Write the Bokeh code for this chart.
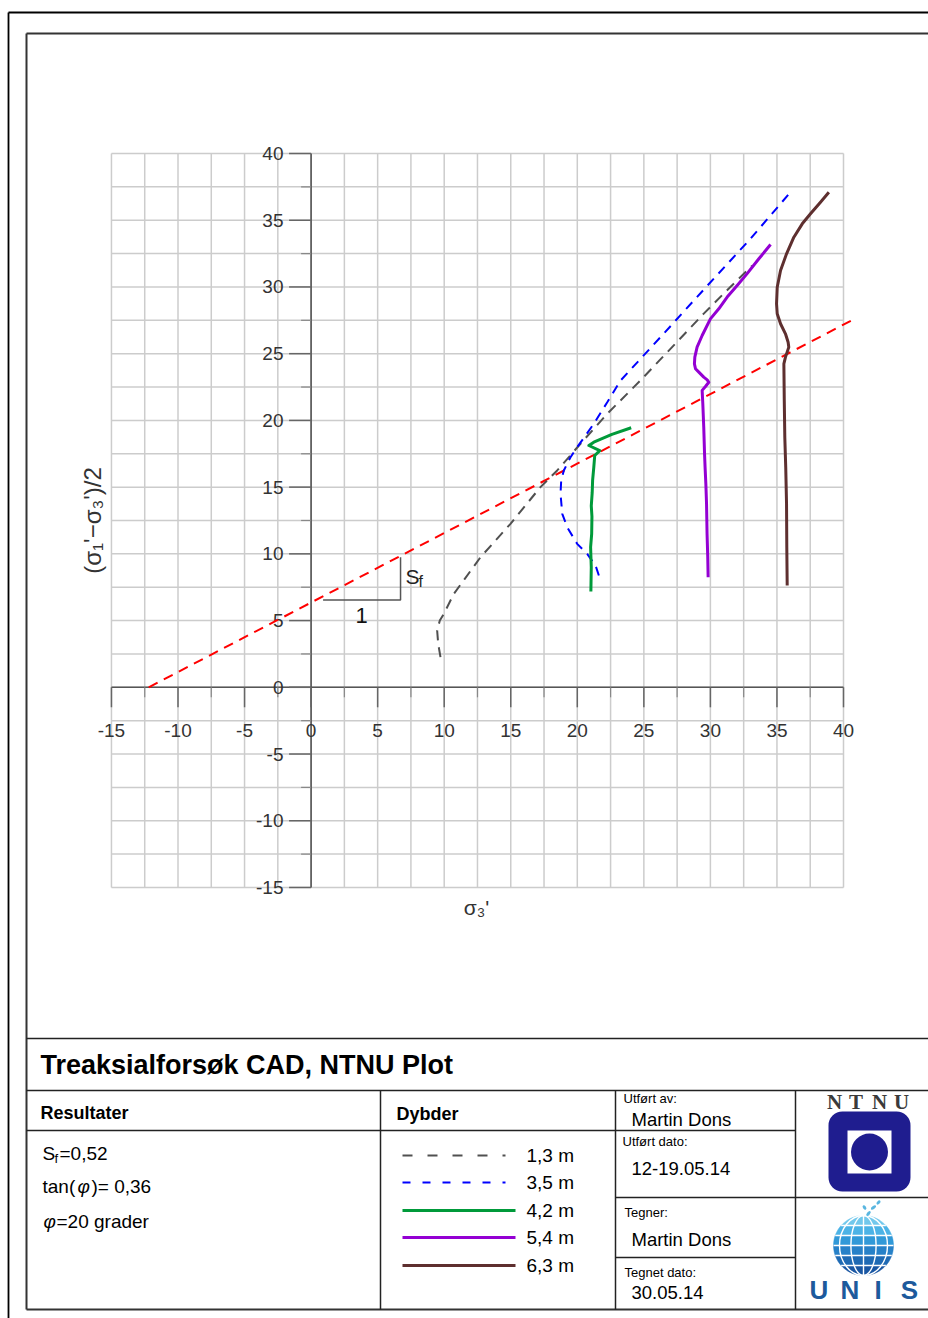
import numpy as np
from bokeh.plotting import figure
from bokeh.models import Range1d, Label, BoxAnnotation
from bokeh.embed import file_html
from bokeh.resources import INLINE
from bokeh.core.properties import value

# ---------------- data ----------------
fail_x = [-12.2, 41.0]
fail_y = [0.0, 27.7]

d13_x = [9.72, 9.55, 9.47, 9.67, 9.97, 10.72, 12.73, 14.98, 17.23, 18.49, 20.24, 22.25, 24.75, 26.75, 29.50, 31.50, 33.14]
d13_y = [2.26, 3.26, 4.26, 5.00, 5.50, 7.00, 9.75, 12.25, 15.00, 16.25, 18.25, 20.50, 23.00, 25.10, 28.00, 30.00, 31.60]

d35_x = [21.62, 21.37, 20.74, 19.99, 19.24, 18.87, 18.74, 18.79, 18.99, 19.49, 19.99, 20.62, 21.24, 22.25, 23.25, 26.40, 29.50, 33.00, 36.10]
d35_y = [8.38, 9.13, 10.00, 10.75, 12.00, 13.00, 14.50, 15.50, 16.25, 17.24, 18.00, 18.87, 19.75, 21.36, 22.99, 26.40, 29.80, 33.60, 37.20]

d42_x = [21.02, 21.05, 21.00, 21.08, 21.10, 21.05, 21.12, 21.15, 21.24, 21.31, 21.69, 20.87, 21.24, 22.60, 24.05]
d42_y = [7.18, 9.00, 10.50, 11.50, 12.80, 13.60, 14.60, 15.50, 16.50, 17.37, 17.74, 18.12, 18.37, 18.95, 19.45]

d54_x = [29.83, 29.80, 29.75, 29.71, 29.66, 29.60, 29.56, 29.50, 29.43, 29.38, 29.63, 29.88, 29.76, 29.50, 29.13, 28.88, 28.80, 28.83, 29.00, 29.38, 30.00, 30.63, 31.26, 32.01, 32.76, 33.64, 34.52]
d54_y = [8.25, 9.80, 11.50, 13.75, 15.20, 16.50, 17.50, 19.50, 21.25, 22.25, 22.54, 22.86, 23.04, 23.24, 23.62, 23.87, 24.24, 24.74, 25.49, 26.36, 27.61, 28.36, 29.24, 30.11, 31.00, 32.11, 33.18]

d63_x = [35.77, 35.74, 35.72, 35.66, 35.59, 35.55, 35.52, 35.64, 35.89, 35.84, 35.64, 35.27, 35.02, 34.97, 35.02, 35.27, 35.72, 36.27, 36.90, 37.52, 38.27, 38.90]
d63_y = [7.63, 10.50, 13.75, 16.50, 18.74, 21.50, 24.24, 24.74, 25.49, 25.86, 26.49, 27.24, 27.99, 28.74, 29.98, 31.23, 32.48, 33.73, 34.73, 35.48, 36.35, 37.10]

depth_labels = ["1,3 m", "3,5 m", "4,2 m", "5,4 m", "6,3 m"]
depth_colors = ["#505050", "#0000ff", "#009a3a", "#9400d3", "#5e2f2f"]
depth_dash = ["10 15", "8 12", "solid", "solid", "solid"]

x_ticks = [-15, -10, -5, 0, 5, 10, 15, 20, 25, 30, 35, 40]
x_tick_labels = ["-15", "-10", "-5", "0", "5", "10", "15", "20", "25", "30", "35", "40"]
y_ticks = [-15, -10, -5, 0, 5, 10, 15, 20, 25, 30, 35, 40]
y_tick_labels = ["-15", "-10", "-5", "0", "5", "10", "15", "20", "25", "30", "35", "40"]
minor_ticks = [-12.5, -7.5, -2.5, 2.5, 7.5, 12.5, 17.5, 22.5, 27.5, 32.5, 37.5]
grid_vals = list(np.arange(-15, 40.01, 2.5))

# ---------------- page <-> data mapping ----------------
X0, SX, Y0, SY = 310.6, 13.31, 686.8, 13.345
def X(px):
    return (np.asarray(px, dtype=float) - X0) / SX
def Y(py):
    return (Y0 - np.asarray(py, dtype=float)) / SY

W, H = 928, 1318
p = figure(width=W, height=H, x_range=Range1d(float(X(0)), float(X(W))),
           y_range=Range1d(float(Y(H)), float(Y(0))),
           output_backend="svg", toolbar_location=None,
           x_axis_location=None, y_axis_location=None, min_border=0,
           title=None, outline_line_color=None)
p.background_fill_color = "white"
p.border_fill_color = "white"
p.grid.visible = False
p.xgrid.grid_line_color = None
p.ygrid.grid_line_color = None

FONT = "Liberation Sans"

def lab(px, py, text, size, align="left", style="normal", color="#000000", font=FONT, angle=0.0):
    p.add_layout(Label(x=float(X(px)), y=float(Y(py)), text=text, text_font=font,
                       text_font_size=f"{size}px", text_font_style=style, text_align=align,
                       text_baseline="middle", text_color=color, angle=angle))

# ---------------- chart grid ----------------
p.segment(x0=grid_vals, y0=[-15] * len(grid_vals), x1=grid_vals, y1=[40] * len(grid_vals),
          line_color="#cccccc", line_width=1.5)
p.segment(x0=[-15] * len(grid_vals), y0=grid_vals, x1=[40] * len(grid_vals), y1=grid_vals,
          line_color="#cccccc", line_width=1.5)

# axes through the origin
p.segment(x0=[-15], y0=[0], x1=[40], y1=[0], line_color="#555555", line_width=1.6)
p.segment(x0=[0], y0=[-15], x1=[0], y1=[40], line_color="#555555", line_width=1.6)
tl_major = 20 / SY
tl_minor = 10 / SY
p.segment(x0=x_ticks, y0=[0] * len(x_ticks), x1=x_ticks, y1=[-tl_major] * len(x_ticks),
          line_color="#666666", line_width=1.5)
p.segment(x0=minor_ticks, y0=[0] * len(minor_ticks), x1=minor_ticks, y1=[-tl_minor] * len(minor_ticks),
          line_color="#888888", line_width=1.2)
p.segment(x0=[0] * len(y_ticks), y0=y_ticks, x1=[-22 / SX] * len(y_ticks), y1=y_ticks,
          line_color="#666666", line_width=1.5)
p.segment(x0=[0] * len(minor_ticks), y0=minor_ticks, x1=[-10 / SX] * len(minor_ticks), y1=minor_ticks,
          line_color="#888888", line_width=1.2)

p.text(x=x_ticks, y=[float(Y(730))] * len(x_ticks), text=x_tick_labels,
       text_font=value(FONT), text_font_size="19px", text_align="center",
       text_baseline="middle", text_color="#333333")
p.text(x=[float(X(283))] * len(y_ticks), y=y_ticks, text=y_tick_labels,
       text_font=value(FONT), text_font_size="19px", text_align="right",
       text_baseline="middle", text_color="#333333")

lab(92, 520, "(σ₁'−σ₃')/2", 24, align="center", color="#333333", angle=np.pi / 2)
lab(476, 907, "σ₃'", 21, align="center", color="#333333")

# ---------------- series ----------------
p.line(fail_x, fail_y, line_color="#ff0000", line_width=2, line_dash="10 7")
p.line(d13_x, d13_y, line_color=depth_colors[0], line_width=2, line_dash="10 7")
p.line(d35_x, d35_y, line_color=depth_colors[1], line_width=2, line_dash="9 7")
p.line(d42_x, d42_y, line_color=depth_colors[2], line_width=3, line_join="round")
p.line(d54_x, d54_y, line_color=depth_colors[3], line_width=3, line_join="round")
p.line(d63_x, d63_y, line_color=depth_colors[4], line_width=3, line_join="round")

# slope triangle
tri_x = [0.9, 6.72, 6.72]
tri_y = [6.55, 6.55, 9.75]
p.line(tri_x, tri_y, line_color="#555555", line_width=1.5)
lab(405, 576, "S", 21, color="#222222")
lab(418, 581, "f", 16, color="#222222")
lab(361, 615, "1", 22, align="center", color="#111111")

# ---------------- page frame & title block ----------------
frame = [(8, 12, 928, 12), (8, 12, 8, 1318)]
inner = [(26, 33, 928, 33), (26, 33, 26, 1309), (26, 1309, 928, 1309)]
table = [
    (26, 1038, 928, 1038), (26, 1090, 928, 1090),
    (26, 1130, 795, 1130), (615, 1197, 928, 1197), (615, 1257, 795, 1257),
    (380, 1090, 380, 1309), (615, 1090, 615, 1309), (795, 1090, 795, 1309),
]
for segs, col, lw in [(frame, "#000000", 1.8), (inner, "#333333", 2.0), (table, "#222222", 1.5)]:
    a = np.array(segs, dtype=float)
    p.segment(x0=X(a[:, 0]), y0=Y(a[:, 1]), x1=X(a[:, 2]), y1=Y(a[:, 3]),
              line_color=col, line_width=lw)

lab(40, 1064, "Treaksialforsøk CAD, NTNU Plot", 27, style="bold")
lab(40, 1112, "Resultater", 18, style="bold")
lab(396, 1113, "Dybder", 18, style="bold")

lab(42, 1153, "S", 19)
lab(54, 1158, "f", 13)
lab(59, 1153, "=0,52", 19)
lab(42, 1186, "tan(", 19)
lab(77, 1186, "φ", 19, style="italic")
lab(91, 1186, ")= 0,36", 19)
lab(43, 1221, "φ", 19, style="italic")
lab(56, 1221, "=20 grader", 19)

leg_py = [1155, 1182, 1210, 1237, 1265]
for i in range(5):
    wid = 2 if i < 2 else 3
    end = 505 if i < 2 else 515
    p.line(X([402, end]), Y([leg_py[i], leg_py[i]]), line_color=depth_colors[i],
           line_width=wid, line_dash=depth_dash[i])
    lab(526, leg_py[i], depth_labels[i], 19)

lab(623, 1098, "Utført av:", 13)
lab(631, 1119, "Martin Dons", 18.5)
lab(622, 1141, "Utført dato:", 13)
lab(631, 1168, "12-19.05.14", 18.5)
lab(624, 1212, "Tegner:", 13)
lab(631, 1239, "Martin Dons", 18.5)
lab(624, 1272, "Tegnet dato:", 13)
lab(631, 1292, "30.05.14", 18.5)

# ---------------- NTNU logo ----------------
for cxp, ch in zip([834, 855.5, 879, 901], ["N", "T", "N", "U"]):
    lab(cxp, 1101, ch, 21, align="center", style="bold", color="#3a3a3a", font="Liberation Serif")
p.add_layout(BoxAnnotation(left=float(X(828)), right=float(X(910)), top=float(Y(1111)),
                           bottom=float(Y(1191)), fill_color="#1f1d8f", fill_alpha=1.0,
                           line_color=None, border_radius=14, level="underlay"))
p.quad(left=[float(X(847))], right=[float(X(891))], top=[float(Y(1130))], bottom=[float(Y(1173))],
       fill_color="white", line_color=None)
p.circle(x=[float(X(869))], y=[float(Y(1151.5))], radius=18.5 / SX, fill_color="#1f1d8f", line_color=None)

# ---------------- UNIS logo ----------------
cx, cy, R = 863.0, 1245.0, 30.0
band_cols = ["#72c8ec", "#4cb3e6", "#3199d8", "#2781c8", "#1f6ab4", "#1a57a3"]
n = len(band_cols)
for i, col in enumerate(band_cols):
    ya = -R + 2 * R * i / n
    yb = -R + 2 * R * (i + 1) / n
    ys = np.linspace(ya, yb, 14)
    xs = np.sqrt(np.maximum(R ** 2 - ys ** 2, 0))
    px_x = np.concatenate([cx + xs, (cx - xs)[::-1]])
    px_y = np.concatenate([cy + ys, (cy + ys)[::-1]])
    p.patch(X(px_x), Y(px_y), fill_color=col, line_color=col, line_width=0.5)
for dy in [-20, -10, 0, 10, 20]:
    hw = np.sqrt(R ** 2 - dy ** 2)
    p.line(X([cx - hw, cx + hw]), Y([cy + dy, cy + dy]), line_color="white", line_width=1.4)
p.line(X([cx, cx]), Y([cy - R, cy + R]), line_color="white", line_width=1.4)
for k in [0.42, 0.8]:
    p.ellipse(x=[float(X(cx))], y=[float(Y(cy))], width=2 * R * k / SX, height=2 * R / SY,
              fill_color=None, line_color="white", line_width=1.4)
p.ellipse(x=X([868, 873, 878, 864]), y=Y([1213, 1207, 1202, 1207]),
          width=[6 / SX, 6 / SX, 5 / SX, 5 / SX], height=[3 / SY, 3 / SY, 3 / SY, 3 / SY],
          angle=[0.9, 0.6, 0.8, 2.2], fill_color="#5ab6e0", line_color=None)
for cxp, ch in zip([818.5, 849.5, 877.5, 909], ["U", "N", "I", "S"]):
    lab(cxp, 1289, ch, 26, align="center", style="bold", color="#1d5a9c")

open("out.html", "w").write(file_html(p, INLINE))
